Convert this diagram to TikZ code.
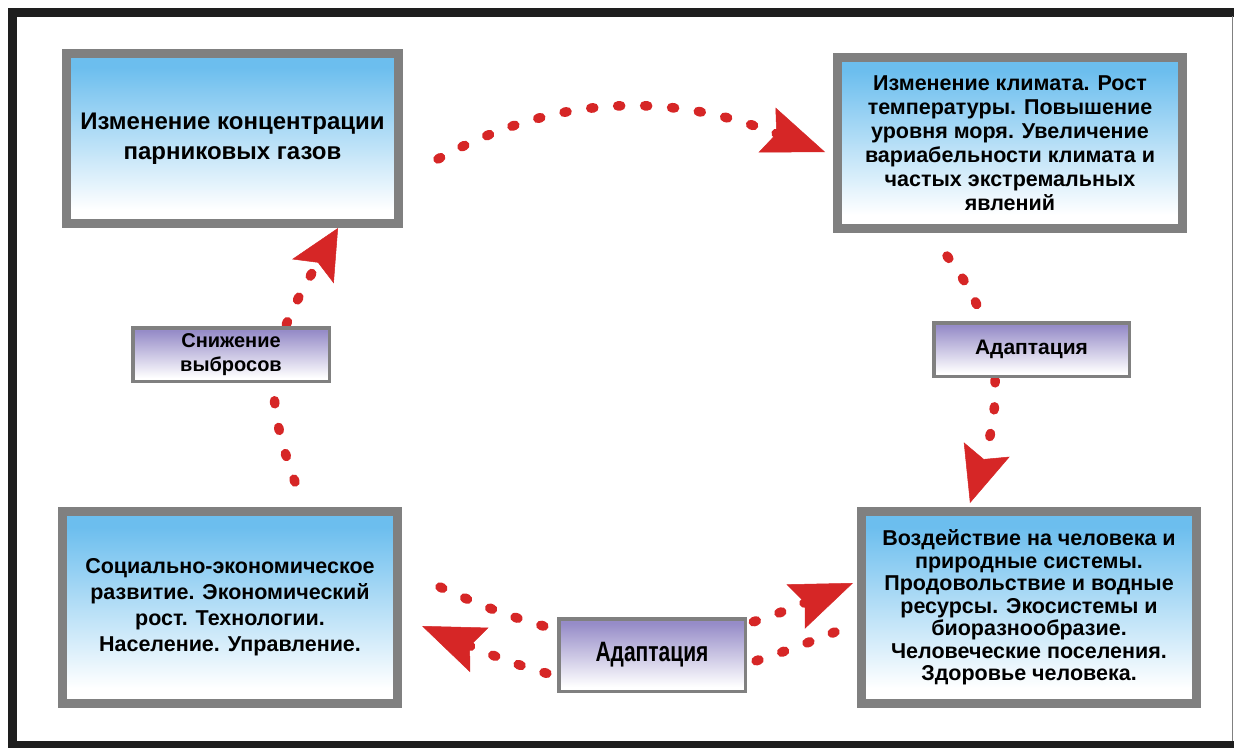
\documentclass[tikz,border=0pt]{standalone}
\usepackage{fontspec}
\setmainfont{Liberation Sans}
\usepackage{graphicx}
\usetikzlibrary{arrows.meta,calc}
\definecolor{skyb}{RGB}{108,190,238}
\definecolor{lav}{RGB}{150,140,200}
\definecolor{boxgray}{RGB}{128,128,128}
\definecolor{dotred}{RGB}{214,38,38}
\definecolor{framecol}{RGB}{30,30,30}
\pgfdeclareverticalshading{bluefade}{100bp}{color(0bp)=(white); color(29bp)=(white); color(71bp)=(skyb); color(100bp)=(skyb)}
\pgfdeclareverticalshading{lavfade}{100bp}{color(0bp)=(white); color(28bp)=(white); color(72bp)=(lav); color(100bp)=(lav)}
\tikzset{
  bigbox/.style={draw=boxgray, line width=9pt, shading=bluefade, align=center, inner sep=0pt},
  smallbox/.style={draw=boxgray, line width=3.5pt, shading=lavfade, align=center, inner sep=0pt},
  dotarrow/.style={draw=dotred, line width=9.5pt, line cap=round, dash pattern=on 3pt off 24pt,
    -{Stealth[length=#1, width=48pt, inset=10pt, line width=0.5pt]}},
  dotarrow/.default=62pt
}
\begin{document}
\begin{tikzpicture}[x=1pt,y=-1pt]
\useasboundingbox (0,0) rectangle (1234,747);
\fill[white] (0,0) rectangle (1234,747);
% frame
\draw[framecol, line width=8.5pt] (1240,12.5) -- (12.5,12.5) -- (12.5,745) -- (1240,745);
\draw[boxgray, line width=1.5pt] (1232.5,16) -- (1232.5,741);

% big boxes
\node[bigbox, minimum width=332pt, minimum height=170pt,
  font={\bfseries\fontsize{24}{30}\selectfont}] (b1) at (232.5,138.5)
  {Изменение концентрации\\парниковых газов};
\node[bigbox, minimum width=345pt, minimum height=171pt,
  font={\bfseries\fontsize{21.5}{24}\selectfont}] (b2) at (1010,143)
  {Изменение климата. Рост\\температуры. Повышение\\уровня моря. Увеличение\\вариабельности климата и\\частых экстремальных\\явлений};
\node[bigbox, minimum width=335pt, minimum height=192pt,
  font={\bfseries\fontsize{21.5}{26}\selectfont}] (b3) at (230,607.5)
  {Социально-экономическое\\развитие. Экономический\\рост. Технологии.\\Население. Управление.};
\node[bigbox, minimum width=335pt, minimum height=192pt,
  font={\bfseries\fontsize{21.5}{22.5}\selectfont}] (b4) at (1029,607.5)
  {Воздействие на человека и\\природные системы.\\Продовольствие и водные\\ресурсы. Экосистемы и\\биоразнообразие.\\Человеческие поселения.\\Здоровье человека.};

% dotted arrows
\draw[dotarrow] ($(b1.east)+(35,20.5)$) .. controls (584.5,79) and (701,105) .. ($(b2.west)+(-8,9)$);
\draw[dotarrow=50pt] ($(b3.north)+(65,-25)$) .. controls (258,381) and (272,342) .. ($(b1.south)+(105.5,0)$);
\draw[dotarrow=56pt] ($(b2.south)+(-63,23)$) .. controls (1013,341) and (996,420) .. ($(b4.north)+(-59,-4)$);
\draw[dotarrow] ($(b3.east)+(38,-20.5)$) .. controls (600,661) and (690,650) .. ($(b4.west)+(-4,-24.5)$);
\draw[dotarrow] ($(b4.west)+(-22,24.5)$) .. controls (661.5,701.4) and (594.6,698) .. ($(b3.east)+(20,18.5)$);

% small boxes
\node[smallbox, minimum width=196.5pt, minimum height=53.5pt,
  font={\bfseries\fontsize{20}{24}\selectfont}] (s1) at (231,354.5)
  {Снижение\\выбросов};
\node[smallbox, minimum width=195.5pt, minimum height=53.5pt,
  font={\bfseries\fontsize{21}{24}\selectfont}] (s2) at (1031.5,349.5)
  {Адаптация};
\node[smallbox, minimum width=186.5pt, minimum height=72.5pt,
  font={\bfseries\fontsize{28}{30}\selectfont}] (s3) at (652,655)
  {\scalebox{0.75}[1]{Адаптация}};
\end{tikzpicture}
\end{document}
